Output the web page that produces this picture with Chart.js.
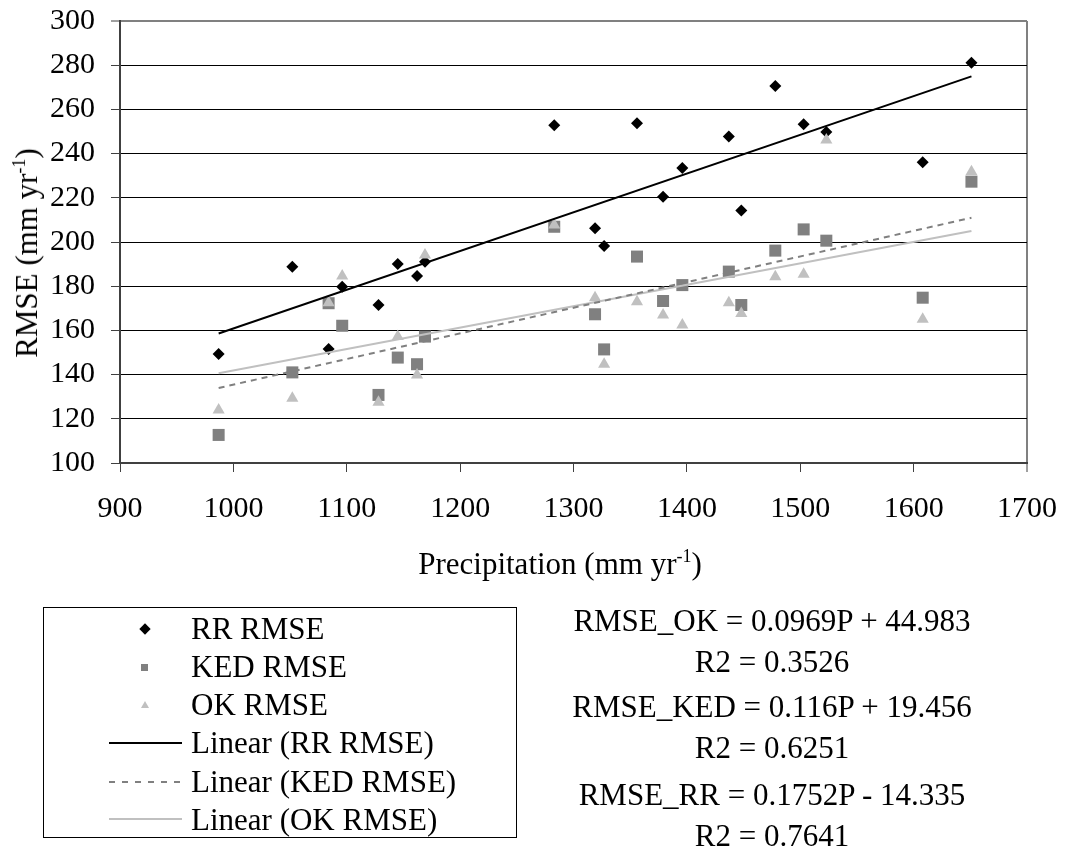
<!DOCTYPE html>
<html>
<head>
<meta charset="utf-8">
<script src="https://cdn.jsdelivr.net/npm/chart.js@4.4.0/dist/chart.umd.min.js"></script>
<style>
body{margin:0;background:#fff;font-family:"Liberation Serif","Times New Roman",serif;color:#000;}
#wrap{position:relative;width:1067px;height:853px;overflow:hidden;}
#grafica{position:absolute;left:0;top:0;}
.txt{position:absolute;white-space:nowrap;font-size:31px;line-height:30px;}
.txt sup{font-size:18px;line-height:0;vertical-align:12px;}
.centro{transform:translateX(-50%);}
#tituloY{transform:translate(-50%,-50%) rotate(-90deg);}
#leyenda{position:absolute;left:43px;top:607px;width:472px;height:229px;border:1px solid #000;}
.mk{position:absolute;}
</style>
</head>
<body>
<div id="wrap">
  <canvas id="grafica" width="1067" height="853"></canvas>

  <div class="txt" id="tituloY" style="left:27px;top:253px;">RMSE (mm yr<sup>-1</sup>)</div>
  <div class="txt centro" style="left:560px;top:549px;">Precipitation (mm yr<sup>-1</sup>)</div>

  <div id="leyenda"></div>
  <div class="mk" style="left:141px;top:625px;width:8px;height:8px;background:#000;transform:rotate(45deg);"></div>
  <div class="mk" style="left:141px;top:664px;width:7px;height:7px;background:#808080;"></div>
  <div class="mk" style="left:141px;top:701px;width:0;height:0;border-left:4px solid transparent;border-right:4px solid transparent;border-bottom:7px solid #c0c0c0;"></div>
  <div class="mk" style="left:109px;top:742px;width:73px;height:2px;background:#000;"></div>
  <div class="mk" style="left:109px;top:781px;width:73px;height:2px;background:repeating-linear-gradient(90deg,#808080 0 6px,transparent 6px 13px);"></div>
  <div class="mk" style="left:109px;top:818px;width:73px;height:2px;background:#c0c0c0;"></div>

  <div class="txt" style="left:191px;top:614px;">RR RMSE</div>
  <div class="txt" style="left:191px;top:652px;">KED RMSE</div>
  <div class="txt" style="left:191px;top:690px;">OK RMSE</div>
  <div class="txt" style="left:191px;top:728px;">Linear (RR RMSE)</div>
  <div class="txt" style="left:191px;top:767px;">Linear (KED RMSE)</div>
  <div class="txt" style="left:191px;top:805px;">Linear (OK RMSE)</div>

  <div id="ecuaciones"></div>
</div>

<script>
// precipitacion (mm/yr) de cada estacion y el RMSE de cada metodo
let precip = [987, 1052, 1084, 1096, 1128, 1145, 1162, 1169, 1283, 1319, 1327,
              1356, 1379, 1396, 1437, 1448, 1478, 1503, 1523, 1608, 1651];
let rrRmse = [149.3, 188.8, 151.6, 179.8, 171.5, 190.0, 184.6, 191.1, 252.8, 206.2, 198.2,
              253.7, 220.5, 233.5, 247.7, 214.3, 270.6, 253.3, 249.8, 236.1, 281.1];
let kedRmse = [112.7, 141.0, 172.3, 162.1, 130.8, 147.7, 144.7, 157.2, 206.9, 167.3, 151.4,
               193.4, 173.3, 180.5, 186.6, 171.5, 196.1, 205.7, 200.6, 174.8, 227.3];
let okRmse = [124.0, 129.3, 172.5, 184.6, 127.5, 157.2, 139.8, 194.1, 207.7, 174.8, 144.7,
              173.0, 167.0, 162.4, 172.5, 167.7, 184.3, 185.4, 246.2, 165.0, 231.8];

// rectas de ajuste: pendiente, intercepto, R2
let nombres = ['RMSE_OK', 'RMSE_KED', 'RMSE_RR'];
let pendientes = [0.0969, 0.116, 0.1752];
let interceptos = [44.983, 19.456, -14.335];
let r2 = ['0.3526', '0.6251', '0.7641'];

let xTicks = [900, 1000, 1100, 1200, 1300, 1400, 1500, 1600, 1700];
let yTicks = [100, 120, 140, 160, 180, 200, 220, 240, 260, 280, 300];

const fuente = {family: '"Liberation Serif", "Times New Roman", serif', size: 30};

function puntos(ys){
    let out = [];
    for (let i = 0; i < precip.length; i++){
        out.push({x: precip[i], y: ys[i]});
    }
    return out;
}
function recta(k){
    let x0 = Math.min(...precip), x1 = Math.max(...precip);
    return [{x: x0, y: pendientes[k]*x0 + interceptos[k]},
            {x: x1, y: pendientes[k]*x1 + interceptos[k]}];
}
// sin relleno extra por las etiquetas, el area queda fija
function sinRelleno(s){
    s.paddingTop = 0; s.paddingBottom = 0; s.paddingLeft = 0; s.paddingRight = 0;
}

// textos de las ecuaciones
let eqBase = [606, 692, 780];
let eq = document.getElementById('ecuaciones');
for (let k = 0; k < nombres.length; k++){
    let b = interceptos[k];
    let signo = b < 0 ? ' - ' : ' + ';
    eq.innerHTML += `
        <div class="txt centro" style="left:772px;top:${eqBase[k]}px;">${nombres[k]} = ${pendientes[k]}P${signo}${Math.abs(b)}</div>
        <div class="txt centro" style="left:772px;top:${eqBase[k]+41}px;">R2 = ${r2[k]}</div>`;
}

new Chart(document.getElementById('grafica'), {
    type: 'scatter',
    data: {
        datasets: [
            {label: 'RR RMSE', data: puntos(rrRmse), pointStyle: 'rectRot', pointRadius: 6,
             backgroundColor: '#000', borderColor: '#000', borderWidth: 0, order: 4},
            {label: 'KED RMSE', data: puntos(kedRmse), pointStyle: 'rect', pointRadius: 8.5,
             backgroundColor: '#808080', borderColor: '#808080', borderWidth: 0, order: 3},
            {label: 'OK RMSE', data: puntos(okRmse), pointStyle: 'triangle', pointRadius: 7,
             backgroundColor: '#c0c0c0', borderColor: '#c0c0c0', borderWidth: 0, order: 2},
            {label: 'Linear (RR RMSE)', data: recta(2), showLine: true, pointRadius: 0,
             borderColor: '#000', borderWidth: 2, order: 1},
            {label: 'Linear (KED RMSE)', data: recta(1), showLine: true, pointRadius: 0,
             borderColor: '#808080', borderWidth: 2, borderDash: [6, 5], order: 1},
            {label: 'Linear (OK RMSE)', data: recta(0), showLine: true, pointRadius: 0,
             borderColor: '#c0c0c0', borderWidth: 2, order: 1}
        ]
    },
    options: {
        responsive: false,
        animation: false,
        layout: {padding: {left: 0, top: 21, right: 40, bottom: 330}},
        plugins: {legend: {display: false}, tooltip: {enabled: false}},
        scales: {
            x: {
                type: 'linear', min: 900, max: 1700,
                afterBuildTicks: s => { s.ticks = xTicks.map(v => ({value: v})); },
                afterFit: s => { s.height = 60; sinRelleno(s); },
                ticks: {font: fuente, color: '#000', padding: 19, callback: v => String(v)},
                border: {color: '#404040', width: 2},
                grid: {
                    color: c => c.tick && c.tick.value === 1700 ? '#808080' : 'rgba(0,0,0,0)',
                    lineWidth: c => c.tick && c.tick.value === 1700 ? 2 : 1,
                    tickColor: '#404040', tickWidth: 1, tickLength: 9
                }
            },
            y: {
                type: 'linear', min: 100, max: 300,
                afterBuildTicks: s => { s.ticks = yTicks.map(v => ({value: v})); },
                afterFit: s => { s.width = 120; sinRelleno(s); },
                ticks: {font: fuente, color: '#000', padding: 16, callback: v => String(v)},
                border: {color: '#404040', width: 2},
                grid: {
                    color: c => {
                        if (!c.tick) return '#000';
                        if (c.tick.value === 300) return '#808080';
                        if (c.tick.value === 100) return 'rgba(0,0,0,0)';
                        return '#000';
                    },
                    lineWidth: c => c.tick && c.tick.value === 300 ? 2 : 1,
                    tickColor: '#404040', tickWidth: 1, tickLength: 9
                }
            }
        }
    }
});
</script>
</body>
</html>
